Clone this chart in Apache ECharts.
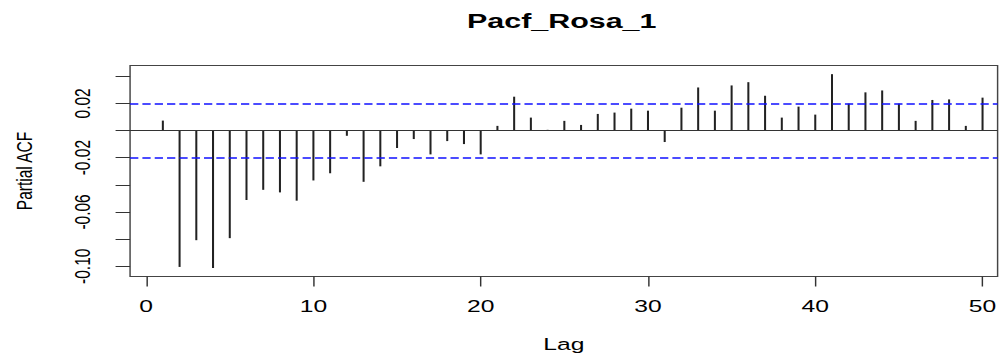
<!DOCTYPE html>
<html>
<head>
<meta charset="utf-8">
<script src="https://cdn.jsdelivr.net/npm/echarts@6/dist/echarts.min.js"></script>
<style>
  html, body { margin: 0; padding: 0; background: #fff; overflow: hidden; }
  /* the reference is an R plot stretched sideways, so the chart is drawn narrow and scaled in x */
  #chart { width: 691px; height: 358px; transform: scaleX(1.45); transform-origin: 0 0; }
</style>
</head>
<body>
<div id="chart"></div>
<script>
const lags = [1, 2, 3, 4, 5, 6, 7, 8, 9, 10,
  11, 12, 13, 14, 15, 16, 17, 18, 19, 20,
  21, 22, 23, 24, 25, 26, 27, 28, 29, 30,
  31, 32, 33, 34, 35, 36, 37, 38, 39, 40,
  41, 42, 43, 44, 45, 46, 47, 48, 49, 50];
const pacfValues = [0.0073, -0.1005, -0.0808, -0.1013, -0.0793, -0.0512, -0.0437, -0.0456, -0.0517, -0.0368,
  -0.0315, -0.0039, -0.0378, -0.0264, -0.0129, -0.0063, -0.0176, -0.0078, -0.0100, -0.0176,
  0.0034, 0.0249, 0.0095, 0.0005, 0.0071, 0.0041, 0.0122, 0.0132, 0.0161, 0.0146,
  -0.0085, 0.0168, 0.0317, 0.0146, 0.0332, 0.0356, 0.0256, 0.0095, 0.0176, 0.0117,
  0.0415, 0.0198, 0.0281, 0.0295, 0.0198, 0.0071, 0.0225, 0.0229, 0.0034, 0.0242];
const ciBounds = [0.0221, -0.0221];
const xTicks = [0, 10, 20, 30, 40, 50];
const yTicks = [-0.10, -0.08, -0.06, -0.04, -0.02, 0.00, 0.02, 0.04];
const yLabels = [-0.10, -0.06, -0.02, 0.02];

const chart = echarts.init(document.getElementById("chart"), null, { renderer: "svg" });

const font = "Liberation Sans, Arial, sans-serif";

// one empty series per confidence bound, each carrying a dashed blue markLine
const boundSeries = ciBounds.map((b) => ({
  type: "line",
  data: [],
  color: "#0000ff",
  markLine: {
    silent: true,
    symbol: "none",
    label: { show: false },
    lineStyle: { color: "#1010ff", type: [5.7, 2.8], width: 1.6 },
    data: [{ yAxis: b }],
  },
}));

const option = {
  animation: false,
  title: {
    text: "Pacf_Rosa_1",
    left: 387.4,
    top: 10,
    padding: 0,
    textAlign: "center",
    textStyle: { fontFamily: font, fontSize: 21, fontWeight: "bold", color: "#000" },
  },
  grid: {
    left: 89.7,
    right: 3,
    top: 65.5,
    bottom: 81.5,
    show: true,
    borderColor: "#444",
    borderWidth: 1,
  },
  xAxis: {
    type: "value",
    min: -0.96,
    max: 50.9,
    name: "Lag",
    nameLocation: "middle",
    nameGap: 59,
    nameTextStyle: { fontFamily: font, fontSize: 17, color: "#000" },
    axisLine: { show: false, onZero: false },
    splitLine: { show: false },
    axisTick: { show: true, length: 10, customValues: xTicks, lineStyle: { color: "#333" } },
    axisLabel: {
      customValues: xTicks,
      margin: 21,
      fontFamily: font,
      fontSize: 17,
      color: "#000",
    },
  },
  yAxis: {
    type: "value",
    min: -0.10755,
    max: 0.04788,
    name: "Partial ACF",
    nameLocation: "middle",
    nameGap: 65,
    nameTextStyle: { fontFamily: font, fontSize: 15.5, color: "#000" },
    axisLine: { show: false, onZero: false },
    splitLine: { show: false },
    axisTick: { show: true, length: 10, customValues: yTicks, lineStyle: { color: "#333" } },
    axisLabel: {
      customValues: yLabels,
      rotate: 90,
      margin: 25,
      fontFamily: font,
      fontSize: 15.5,
      color: "#000",
      formatter: (v) => v.toFixed(2),
    },
  },
  series: [
    {
      type: "bar",
      data: lags.map((lag, i) => [lag, pacfValues[i]]),
      barWidth: 1.4,
      itemStyle: { color: "#222" },
      markLine: {
        silent: true,
        symbol: "none",
        label: { show: false },
        lineStyle: { color: "#333", type: "solid", width: 1 },
        data: [{ yAxis: 0 }],
      },
    },
    ...boundSeries,
  ],
};

chart.setOption(option);
</script>
</body>
</html>
